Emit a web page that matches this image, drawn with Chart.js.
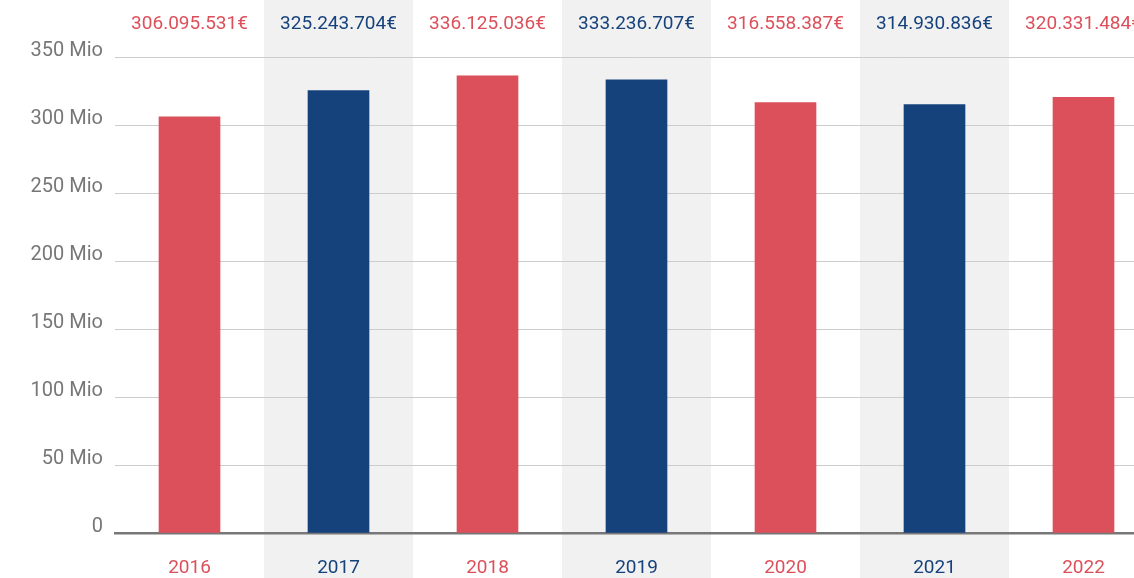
<!DOCTYPE html>
<html>
<head>
<meta charset="utf-8">
<script src="https://cdn.jsdelivr.net/npm/chart.js@4/dist/chart.umd.min.js"></script>
<style>
  html, body { margin: 0; padding: 0; background: #fff; overflow: hidden; width: 1134px; height: 578px; }
  #wrap { position: relative; width: 1160px; height: 578px; }
</style>
</head>
<body>
<div id="wrap"><canvas id="c" width="1160" height="578"></canvas></div>
<script>
// Yearly totals in euro
const years = ['2016', '2017', '2018', '2019', '2020', '2021', '2022'];
const totals = [306095531, 325243704, 336125036, 333236707, 316558387, 314930836, 320331484];
const yTicks = [0, 50, 100, 150, 200, 250, 300, 350]; // millions

const RED = '#dc505b';
const BLUE = '#16427c';
const barColors = years.map((_, i) => i % 2 === 0 ? RED : BLUE);
const FONT = 'Roboto';

const fmtEuro = v => String(v).replace(/\B(?=(\d{3})+(?!\d))/g, '.') + '€';

// Alternating shaded columns behind each odd year
const bandPlugin = {
  id: 'bands',
  beforeDraw(chart) {
    const { ctx, scales: { x } } = chart;
    const w = x.width / years.length;
    ctx.save();
    ctx.fillStyle = '#f1f1f1';
    years.forEach((_, i) => {
      if (i % 2 === 1) {
        const cx = x.getPixelForValue(i);
        ctx.fillRect(cx - w / 2, 0, w, chart.height);
      }
    });
    ctx.restore();
  }
};

// Value captions across the top
const valuePlugin = {
  id: 'values',
  afterDraw(chart) {
    const { ctx, scales: { x } } = chart;
    ctx.save();
    ctx.font = '19px ' + FONT;
    ctx.textAlign = 'center';
    ctx.textBaseline = 'middle';
    totals.forEach((v, i) => {
      ctx.fillStyle = barColors[i];
      ctx.fillText(fmtEuro(v), x.getPixelForValue(i), 24);
    });
    ctx.restore();
  }
};

new Chart(document.getElementById('c'), {
  type: 'bar',
  data: {
    labels: years,
    datasets: [{
      data: totals,
      backgroundColor: barColors,
      barThickness: 61
    }]
  },
  options: {
    responsive: false,
    animation: false,
    layout: { padding: { top: 57, right: 2, left: 0, bottom: 0 } },
    plugins: { legend: { display: false }, tooltip: { enabled: false } },
    scales: {
      x: {
        grid: { display: false, drawTicks: false },
        border: { display: true, color: '#777777', width: 2.5 },
        ticks: {
          color: ctx => barColors[ctx.index],
          font: { family: FONT, size: 19 },
          padding: 24
        },
        afterFit(scale) { scale.height = 45; }
      },
      y: {
        min: 0,
        max: 350000000,
        afterBuildTicks(scale) {
          scale.ticks = yTicks.map(m => ({ value: m * 1e6 }));
        },
        grid: {
          color: ctx => ctx.tick && ctx.tick.value === 0 ? 'rgba(0,0,0,0)' : '#cccccc',
          lineWidth: 1,
          drawTicks: false
        },
        border: { display: false },
        ticks: {
          color: '#777777',
          font: { family: FONT, size: 20 },
          padding: 12,
          labelOffset: -6,
          callback: v => v === 0 ? '0' : (v / 1e6) + ' Mio'
        },
        afterFit(scale) { scale.width = 115; }
      }
    }
  },
  plugins: [bandPlugin, valuePlugin]
});
</script>
</body>
</html>
